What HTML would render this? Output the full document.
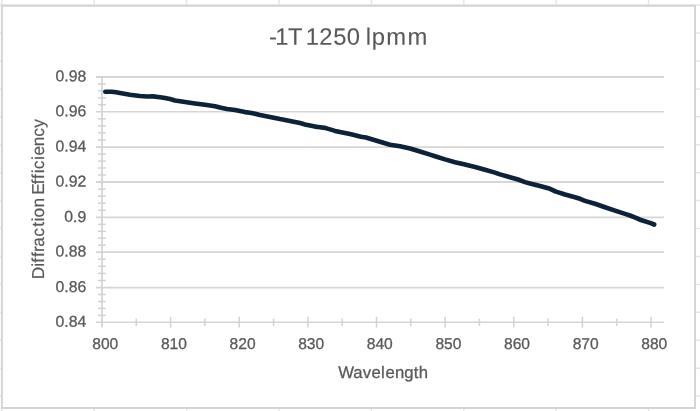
<!DOCTYPE html>
<html lang="en"><head><meta charset="utf-8"><title>-1T 1250 lpmm</title>
<style>
html,body{margin:0;padding:0;background:#fff;}
body{width:700px;height:411px;overflow:hidden;position:relative;}
svg{position:absolute;left:0;top:0;display:block;}
text{font-family:"Liberation Sans",sans-serif;text-rendering:geometricPrecision;fill:#595959;stroke:#595959;stroke-width:0.3;}
</style></head><body>
<svg width="700" height="411" viewBox="0 0 700 411">
<rect width="700" height="411" fill="#fff"/>

<g stroke="#e6e6e6" stroke-width="1.5" fill="none">
<line x1="1.8" y1="0" x2="1.8" y2="411"/>
<line x1="94.2" y1="0" x2="94.2" y2="411"/>
<line x1="186.6" y1="0" x2="186.6" y2="411"/>
<line x1="279.0" y1="0" x2="279.0" y2="411"/>
<line x1="371.4" y1="0" x2="371.4" y2="411"/>
<line x1="463.8" y1="0" x2="463.8" y2="411"/>
<line x1="556.2" y1="0" x2="556.2" y2="411"/>
<line x1="648.6" y1="0" x2="648.6" y2="411"/>
<line x1="741.0" y1="0" x2="741.0" y2="411"/>
<line x1="0" y1="5.1" x2="700" y2="5.1"/>
<line x1="0" y1="33.0" x2="700" y2="33.0"/>
<line x1="0" y1="61.0" x2="700" y2="61.0"/>
<line x1="0" y1="88.9" x2="700" y2="88.9"/>
<line x1="0" y1="116.8" x2="700" y2="116.8"/>
<line x1="0" y1="144.8" x2="700" y2="144.8"/>
<line x1="0" y1="172.7" x2="700" y2="172.7"/>
<line x1="0" y1="200.6" x2="700" y2="200.6"/>
<line x1="0" y1="228.5" x2="700" y2="228.5"/>
<line x1="0" y1="256.5" x2="700" y2="256.5"/>
<line x1="0" y1="284.4" x2="700" y2="284.4"/>
<line x1="0" y1="312.3" x2="700" y2="312.3"/>
<line x1="0" y1="340.3" x2="700" y2="340.3"/>
<line x1="0" y1="368.2" x2="700" y2="368.2"/>
<line x1="0" y1="396.1" x2="700" y2="396.1"/>
<line x1="0" y1="424.1" x2="700" y2="424.1"/>
</g>
<rect x="1.9" y="5.8" width="693.1" height="402.2" fill="#fff" stroke="#d5d5d5" stroke-width="2"/>
<g stroke="#d6d6d6" stroke-width="1.8" fill="none">
<line x1="96" y1="76.9" x2="664" y2="76.9" stroke-width="2.0"/>
<line x1="96" y1="111.7" x2="664" y2="111.7" stroke-width="1.5"/>
<line x1="96" y1="147.1" x2="664" y2="147.1" stroke-width="1.9"/>
<line x1="96" y1="182.0" x2="664" y2="182.0" stroke-width="1.9"/>
<line x1="96" y1="217.4" x2="664" y2="217.4" stroke-width="1.6"/>
<line x1="96" y1="252.1" x2="664" y2="252.1" stroke-width="1.9"/>
<line x1="96" y1="287.6" x2="664" y2="287.6" stroke-width="1.8"/>
<line x1="96" y1="322.3" x2="664" y2="322.3" stroke-width="1.5"/>
</g>
<g stroke="#d3d3d3" stroke-width="1.7" fill="none">
<line x1="102.0" y1="76.0" x2="102.0" y2="327.59999999999997"/>
</g>
<g stroke="#d2d2d2" stroke-width="1.5" fill="none">
<line x1="98" y1="83.9" x2="105.8" y2="83.9"/>
<line x1="98" y1="90.8" x2="105.8" y2="90.8"/>
<line x1="98" y1="97.8" x2="105.8" y2="97.8"/>
<line x1="98" y1="104.7" x2="105.8" y2="104.7"/>
<line x1="98" y1="118.8" x2="105.8" y2="118.8"/>
<line x1="98" y1="125.9" x2="105.8" y2="125.9"/>
<line x1="98" y1="132.9" x2="105.8" y2="132.9"/>
<line x1="98" y1="140.0" x2="105.8" y2="140.0"/>
<line x1="98" y1="154.1" x2="105.8" y2="154.1"/>
<line x1="98" y1="161.1" x2="105.8" y2="161.1"/>
<line x1="98" y1="168.0" x2="105.8" y2="168.0"/>
<line x1="98" y1="175.0" x2="105.8" y2="175.0"/>
<line x1="98" y1="189.1" x2="105.8" y2="189.1"/>
<line x1="98" y1="196.2" x2="105.8" y2="196.2"/>
<line x1="98" y1="203.2" x2="105.8" y2="203.2"/>
<line x1="98" y1="210.3" x2="105.8" y2="210.3"/>
<line x1="98" y1="224.3" x2="105.8" y2="224.3"/>
<line x1="98" y1="231.3" x2="105.8" y2="231.3"/>
<line x1="98" y1="238.2" x2="105.8" y2="238.2"/>
<line x1="98" y1="245.2" x2="105.8" y2="245.2"/>
<line x1="98" y1="259.2" x2="105.8" y2="259.2"/>
<line x1="98" y1="266.3" x2="105.8" y2="266.3"/>
<line x1="98" y1="273.4" x2="105.8" y2="273.4"/>
<line x1="98" y1="280.5" x2="105.8" y2="280.5"/>
<line x1="98" y1="294.5" x2="105.8" y2="294.5"/>
<line x1="98" y1="301.5" x2="105.8" y2="301.5"/>
<line x1="98" y1="308.4" x2="105.8" y2="308.4"/>
<line x1="98" y1="315.4" x2="105.8" y2="315.4"/>
<line x1="136.3" y1="318.6" x2="136.3" y2="325.9"/>
<line x1="170.6" y1="316.8" x2="170.6" y2="327.6"/>
<line x1="204.9" y1="318.6" x2="204.9" y2="325.9"/>
<line x1="239.2" y1="316.8" x2="239.2" y2="327.6"/>
<line x1="273.6" y1="318.6" x2="273.6" y2="325.9"/>
<line x1="307.9" y1="316.8" x2="307.9" y2="327.6"/>
<line x1="342.2" y1="318.6" x2="342.2" y2="325.9"/>
<line x1="376.5" y1="316.8" x2="376.5" y2="327.6"/>
<line x1="410.8" y1="318.6" x2="410.8" y2="325.9"/>
<line x1="445.1" y1="316.8" x2="445.1" y2="327.6"/>
<line x1="479.4" y1="318.6" x2="479.4" y2="325.9"/>
<line x1="513.8" y1="316.8" x2="513.8" y2="327.6"/>
<line x1="548.1" y1="318.6" x2="548.1" y2="325.9"/>
<line x1="582.4" y1="316.8" x2="582.4" y2="327.6"/>
<line x1="616.7" y1="318.6" x2="616.7" y2="325.9"/>
<line x1="651.0" y1="316.8" x2="651.0" y2="327.6"/>
</g>
<path d="M105.3,91.8 L112.0,91.8 L116.0,92.3 L120.0,93.0 L130.0,94.7 L140.0,96.0 L147.0,96.5 L153.0,96.4 L160.0,97.2 L165.0,98.0 L170.0,99.1 L175.0,100.4 L185.0,102.0 L195.0,103.5 L205.0,104.8 L215.0,106.2 L221.0,107.8 L227.0,109.0 L235.0,110.0 L240.0,111.1 L245.0,112.1 L250.0,112.8 L255.0,113.8 L260.0,115.0 L270.0,116.9 L280.0,119.1 L290.0,121.0 L300.0,123.1 L305.0,124.4 L315.0,126.6 L320.0,127.2 L325.0,127.9 L330.0,129.4 L335.0,130.9 L340.0,132.1 L345.0,133.1 L350.0,134.1 L355.0,135.3 L361.0,136.8 L366.0,137.5 L370.0,138.7 L380.0,141.8 L390.0,144.7 L400.0,146.3 L410.0,148.5 L420.0,151.5 L430.0,154.6 L435.0,156.2 L445.0,159.4 L455.0,162.2 L465.0,164.6 L475.0,167.0 L485.0,169.8 L495.0,172.6 L500.0,174.4 L510.0,177.2 L518.0,179.5 L525.0,182.1 L530.0,183.5 L540.0,186.0 L550.0,188.8 L556.0,191.6 L565.0,194.5 L575.0,197.2 L580.0,198.8 L585.0,200.9 L595.0,203.8 L605.0,207.2 L615.0,210.6 L625.0,213.9 L630.0,215.5 L636.0,217.8 L640.0,219.7 L650.0,222.9 L654.2,224.5" fill="none" stroke="#0c2239" stroke-width="4.6" stroke-linecap="round" stroke-linejoin="round"/>
<text transform="translate(268.80,44.75) rotate(0.05)" x="0.09 6.36 19.14 33.67 37.01 50.53 64.56 78.03 91.27 96.90 103.01 117.33 138.58" font-size="23.8" style="stroke-width:0.1">-1T 1250 lpmm</text>
<text transform="translate(86.2,81.40) rotate(0.1)" font-size="15.7" text-anchor="end" textLength="30.67" lengthAdjust="spacingAndGlyphs">0.98</text>
<text transform="translate(86.2,116.20) rotate(0.1)" font-size="15.7" text-anchor="end" textLength="30.67" lengthAdjust="spacingAndGlyphs">0.96</text>
<text transform="translate(86.2,151.60) rotate(0.1)" font-size="15.7" text-anchor="end" textLength="30.67" lengthAdjust="spacingAndGlyphs">0.94</text>
<text transform="translate(86.2,186.50) rotate(0.1)" font-size="15.7" text-anchor="end" textLength="30.67" lengthAdjust="spacingAndGlyphs">0.92</text>
<text transform="translate(86.2,221.90) rotate(0.1)" font-size="15.7" text-anchor="end" textLength="21.91" lengthAdjust="spacingAndGlyphs">0.9</text>
<text transform="translate(86.2,256.60) rotate(0.1)" font-size="15.7" text-anchor="end" textLength="30.67" lengthAdjust="spacingAndGlyphs">0.88</text>
<text transform="translate(86.2,292.10) rotate(0.1)" font-size="15.7" text-anchor="end" textLength="30.67" lengthAdjust="spacingAndGlyphs">0.86</text>
<text transform="translate(86.2,326.80) rotate(0.1)" font-size="15.7" text-anchor="end" textLength="30.67" lengthAdjust="spacingAndGlyphs">0.84</text>
<text transform="translate(105.3,349) rotate(0.1)" font-size="15.7" text-anchor="middle" textLength="26.00" lengthAdjust="spacingAndGlyphs">800</text>
<text transform="translate(173.9,349) rotate(0.1)" font-size="15.7" text-anchor="middle" textLength="26.00" lengthAdjust="spacingAndGlyphs">810</text>
<text transform="translate(242.6,349) rotate(0.1)" font-size="15.7" text-anchor="middle" textLength="26.00" lengthAdjust="spacingAndGlyphs">820</text>
<text transform="translate(311.2,349) rotate(0.1)" font-size="15.7" text-anchor="middle" textLength="26.00" lengthAdjust="spacingAndGlyphs">830</text>
<text transform="translate(379.8,349) rotate(0.1)" font-size="15.7" text-anchor="middle" textLength="26.00" lengthAdjust="spacingAndGlyphs">840</text>
<text transform="translate(448.4,349) rotate(0.1)" font-size="15.7" text-anchor="middle" textLength="26.00" lengthAdjust="spacingAndGlyphs">850</text>
<text transform="translate(517.0,349) rotate(0.1)" font-size="15.7" text-anchor="middle" textLength="26.00" lengthAdjust="spacingAndGlyphs">860</text>
<text transform="translate(585.7,349) rotate(0.1)" font-size="15.7" text-anchor="middle" textLength="26.00" lengthAdjust="spacingAndGlyphs">870</text>
<text transform="translate(654.3,349) rotate(0.1)" font-size="15.7" text-anchor="middle" textLength="26.00" lengthAdjust="spacingAndGlyphs">880</text>
<text transform="translate(338.00,377.90) rotate(0.05)" x="0.21 15.25 24.85 33.42 43.14 47.62 56.94 66.29 75.71 80.87" font-size="16.7" style="stroke-width:0.3">Wavelength</text>
<text transform="translate(43.90,278.00) rotate(-90)" x="-1.14 11.28 15.36 20.91 26.09 31.32 41.34 51.38 56.48 60.59 70.63 80.25 83.22 93.86 98.96 104.68 108.79 118.08 122.46 131.68 141.29 150.32" font-size="17.3" style="stroke-width:0.2">Diffraction Efficiency</text>
</svg></body></html>
